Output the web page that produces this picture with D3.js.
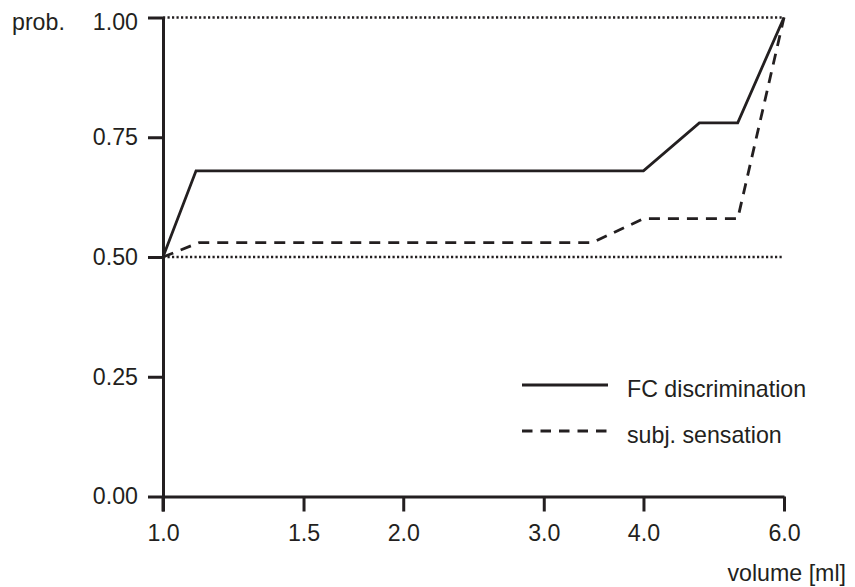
<!DOCTYPE html>
<html>
<head>
<meta charset="utf-8">
<script src="https://cdn.jsdelivr.net/npm/d3@7"></script>
<style>
  body { margin: 0; background: #fff; }
  svg text { font-family: "Liberation Sans", Arial, sans-serif; fill: #231f20; }
</style>
</head>
<body>
<svg id="chart" width="855" height="587"></svg>
<script>
// ticks
var xTicks = [1.0, 1.5, 2.0, 3.0, 4.0, 6.0];
var yTicks = [0, 0.25, 0.5, 0.75, 1.0];
var refLines = [0.5, 1.0];

// FC discrimination (solid)
var fcVolume = [1.0, 1.10, 4.0, 4.7, 5.25, 6.0];
var fcProb   = [0.50, 0.68, 0.68, 0.78, 0.78, 1.00];

// subj. sensation (dashed)
var subjVolume = [1.0, 1.11, 3.45, 4.0, 5.25, 6.0];
var subjProb   = [0.50, 0.53, 0.53, 0.58, 0.58, 1.00];

var series = [
    {name: 'FC discrimination', vol: fcVolume, prob: fcProb, dash: null},
    {name: 'subj. sensation', vol: subjVolume, prob: subjProb, dash: '11,8'}
];

var ink = '#231f20';
var fontSize = '23.2px';

var svg = d3.select('#chart');

var x = d3.scaleLog().domain([1, 6]).range([163, 784]);
var y = d3.scaleLinear().domain([0, 1]).range([496.5, 17.5]);

// dotted reference lines
svg.selectAll('.ref')
    .data(refLines)
    .enter().append('line')
    .attr('class', 'ref')
    .attr('x1', x(1)).attr('x2', x(6))
    .attr('y1', function(d){ return y(d); })
    .attr('y2', function(d){ return y(d); })
    .attr('stroke', ink)
    .attr('stroke-width', 2.4)
    .attr('stroke-dasharray', '2.2,2.3');

// axes
var yAxis = d3.axisLeft(y)
    .tickValues(yTicks)
    .tickFormat(d3.format('.2f'))
    .tickSize(15).tickSizeOuter(0).tickPadding(10);

var xAxis = d3.axisBottom(x)
    .tickValues(xTicks)
    .tickFormat(d3.format('.1f'))
    .tickSize(15).tickSizeOuter(0).tickPadding(13);

var gy = svg.append('g').attr('transform', 'translate(' + x(1) + ',0)').call(yAxis);
var gx = svg.append('g').attr('transform', 'translate(0,' + y(0) + ')').call(xAxis);

[gx, gy].forEach(function(g){
    g.attr('font-size', null).attr('font-family', null);
    g.selectAll('path, line').attr('stroke', ink).attr('stroke-width', 3);
    g.selectAll('text').style('font-size', fontSize).attr('fill', ink);
});
// top label sits a bit lower in the original
gy.selectAll('.tick text').filter(function(d){ return d === 1; }).attr('dy', '0.52em');

// y axis runs down through the x axis to the end of its tick
svg.append('line')
    .attr('x1', x(1)).attr('x2', x(1))
    .attr('y1', y(0)).attr('y2', y(0) + 15)
    .attr('stroke', ink).attr('stroke-width', 3);

// data lines
var line = d3.line()
    .x(function(d){ return x(d[0]); })
    .y(function(d){ return y(d[1]); });

series.forEach(function(s){
    var pts = d3.zip(s.vol, s.prob);
    svg.append('path')
        .datum(pts)
        .attr('d', line)
        .attr('fill', 'none')
        .attr('stroke', ink)
        .attr('stroke-width', 2.8)
        .attr('stroke-linejoin', 'miter')
        .attr('stroke-dasharray', s.dash);
});

// axis titles
svg.append('text')
    .attr('x', 12).attr('y', 30)
    .style('font-size', fontSize)
    .text('prob.');

svg.append('text')
    .attr('x', 846).attr('y', 581)
    .attr('text-anchor', 'end')
    .style('font-size', fontSize)
    .text('volume [ml]');

// legend
var legend = svg.append('g').attr('transform', 'translate(522,385)');
var item = legend.selectAll('g')
    .data(series)
    .enter().append('g')
    .attr('transform', function(d, i){ return 'translate(0,' + (i * 46) + ')'; });

item.append('line')
    .attr('x1', 0).attr('x2', 86)
    .attr('stroke', ink).attr('stroke-width', 2.8)
    .attr('stroke-dasharray', function(d){ return d.dash ? '10.5,8' : null; });

item.append('text')
    .attr('x', 105).attr('y', 12)
    .style('font-size', fontSize)
    .text(function(d){ return d.name; });
</script>
</body>
</html>
